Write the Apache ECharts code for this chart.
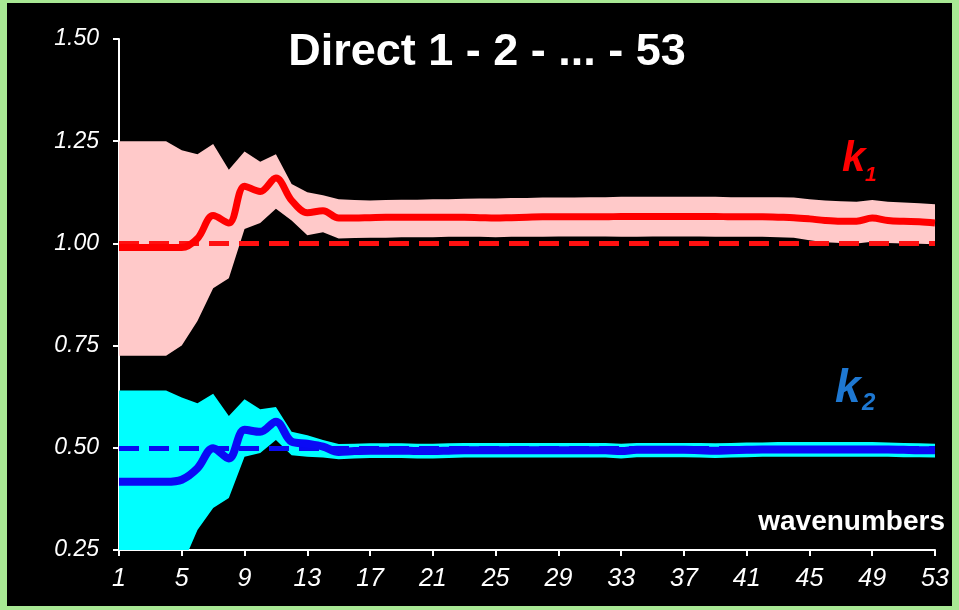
<!DOCTYPE html>
<html>
<head>
<meta charset="utf-8">
<script src="https://cdn.jsdelivr.net/npm/echarts@6/dist/echarts.min.js"></script>
<style>
  html, body { margin: 0; padding: 0; background: #a8e894; width: 959px; height: 610px; overflow: hidden; }
  #chart { position: absolute; left: 7px; top: 3px; width: 945px; height: 603px; }
</style>
</head>
<body>
<div id="chart"></div>
<script>
const categories = ['1','2','3','4','5','6','7','8','9','10','11','12','13','14','15','16','17','18','19','20',
  '21','22','23','24','25','26','27','28','29','30','31','32','33','34','35','36','37','38','39','40',
  '41','42','43','44','45','46','47','48','49','50','51','52','53'];
const yTicks = [0.25, 0.50, 0.75, 1.00, 1.25, 1.50];

const k1Upper = [1.25,1.25,1.25,1.25,
  1.228,1.218,1.243,1.180,1.225,1.200,
  1.218,1.145,1.125,1.118,1.108,
  1.106,1.105,1.106,1.107,1.107,
  1.108,1.108,1.109,1.110,1.110,
  1.111,1.111,1.112,1.112,1.112,
  1.113,1.113,1.114,1.114,1.114,
  1.114,1.114,1.114,1.114,1.113,
  1.113,1.113,1.113,1.112,1.108,
  1.105,1.103,1.102,1.106,1.102,
  1.100,1.098,1.096];
const k1Lower = [0.725,0.725,0.725,0.725,
  0.750,0.810,0.890,0.915,1.035,1.050,
  1.085,1.056,1.020,1.027,1.012,
  1.013,1.014,1.014,1.015,1.015,
  1.015,1.016,1.016,1.016,1.015,
  1.016,1.016,1.016,1.017,1.017,
  1.017,1.017,1.016,1.016,1.017,
  1.017,1.017,1.017,1.016,1.016,
  1.016,1.016,1.015,1.014,1.008,
  1.003,1.001,1.000,1.004,1.001,
  1.000,0.999,0.998];
const k1Mean = [0.990,0.990,0.990,0.990,0.990,
  1.012,1.068,1.050,1.140,1.127,
  1.160,1.105,1.075,1.080,1.062,
  1.062,1.063,1.064,1.064,1.064,
  1.064,1.064,1.064,1.063,1.062,
  1.063,1.064,1.065,1.065,1.065,
  1.065,1.065,1.066,1.066,1.066,
  1.066,1.066,1.066,1.066,1.065,
  1.065,1.065,1.064,1.063,1.060,
  1.056,1.054,1.054,1.062,1.056,
  1.054,1.053,1.050];

const k2Upper = [0.640,0.640,0.640,0.640,
  0.623,0.609,0.632,0.578,0.619,0.594,
  0.600,0.539,0.531,0.519,0.509,
  0.510,0.511,0.511,0.511,0.510,
  0.510,0.511,0.512,0.512,0.512,
  0.512,0.512,0.512,0.512,0.512,
  0.512,0.512,0.510,0.512,0.512,
  0.512,0.512,0.512,0.511,0.512,
  0.513,0.513,0.514,0.514,0.514,
  0.514,0.514,0.514,0.514,0.513,
  0.512,0.511,0.510];
const k2Lower = [0.190,0.190,0.190,0.190,
  0.210,0.299,0.353,0.377,0.478,0.487,
  0.519,0.482,0.478,0.476,0.472,
  0.474,0.475,0.475,0.475,0.474,
  0.474,0.475,0.476,0.476,0.476,
  0.476,0.476,0.476,0.476,0.476,
  0.476,0.476,0.474,0.477,0.477,
  0.477,0.477,0.476,0.475,0.476,
  0.477,0.478,0.478,0.478,0.478,
  0.478,0.478,0.478,0.478,0.478,
  0.477,0.477,0.476];
const k2Mean = [0.417,0.417,0.417,0.417,0.422,
  0.450,0.499,0.474,0.544,0.539,
  0.564,0.515,0.510,0.503,0.490,
  0.492,0.493,0.493,0.493,0.492,
  0.492,0.493,0.494,0.494,0.494,
  0.494,0.494,0.494,0.494,0.494,
  0.494,0.494,0.492,0.495,0.495,
  0.495,0.495,0.494,0.493,0.494,
  0.495,0.496,0.496,0.496,0.496,
  0.496,0.496,0.496,0.496,0.496,
  0.495,0.494,0.494];

const k1Ref = 1.00;
const k2Ref = 0.50;

const FONT = 'Arial, "Liberation Sans", Helvetica, sans-serif';
const chart = echarts.init(document.getElementById('chart'), null, { renderer: 'canvas' });

const k1Band = k1Upper.map((v, i) => +(v - k1Lower[i]).toFixed(4));
const k2Band = k2Upper.map((v, i) => +(v - k2Lower[i]).toFixed(4));

chart.setOption({
  backgroundColor: '#000000',
  animation: false,
  grid: { left: 112, top: 36, width: 816, height: 511, containLabel: false },
  xAxis: {
    type: 'category',
    data: categories,
    boundaryGap: false,
    axisLine: { lineStyle: { color: '#ffffff', width: 2 } },
    axisTick: { show: true, interval: 3, length: 6, lineStyle: { color: '#ffffff', width: 2 } },
    axisLabel: { interval: 3, color: '#ffffff', fontSize: 25, fontStyle: 'italic', fontFamily: FONT, margin: 17 },
    splitLine: { show: false }
  },
  yAxis: {
    type: 'value',
    min: yTicks[0],
    max: yTicks[yTicks.length - 1],
    interval: 0.25,
    axisLine: { show: true, lineStyle: { color: '#ffffff', width: 2 } },
    axisTick: { show: true, length: 6, lineStyle: { color: '#ffffff', width: 2 } },
    axisLabel: { color: '#ffffff', fontSize: 23, fontStyle: 'italic', fontFamily: FONT, margin: 20,
      formatter: v => v.toFixed(2) },
    splitLine: { show: false }
  },
  series: [
    { name: 'k1 low', type: 'line', stack: 'k1', data: k1Lower, symbol: 'none',
      lineStyle: { width: 0, opacity: 0 }, silent: true, z: 1 },
    { name: 'k1 band', type: 'line', stack: 'k1', data: k1Band, symbol: 'none',
      lineStyle: { width: 0, opacity: 0 }, areaStyle: { color: '#ffc9c9', opacity: 1 }, silent: true, z: 1,
      markLine: { silent: true, symbol: ['none', 'none'], label: { show: false },
        lineStyle: { color: '#ff1010', type: [20, 10], width: 5 },
        data: [{ yAxis: k1Ref }] } },
    { name: 'k2 low', type: 'line', stack: 'k2', data: k2Lower, symbol: 'none',
      lineStyle: { width: 0, opacity: 0 }, silent: true, z: 1 },
    { name: 'k2 band', type: 'line', stack: 'k2', data: k2Band, symbol: 'none',
      lineStyle: { width: 0, opacity: 0 }, areaStyle: { color: '#00ffff', opacity: 1 }, silent: true, z: 1,
      markLine: { silent: true, symbol: ['none', 'none'], label: { show: false },
        lineStyle: { color: '#0a0af0', type: [20, 10], width: 5 },
        data: [{ yAxis: k2Ref }] } },
    { name: 'k1', type: 'line', data: k1Mean, symbol: 'none', smooth: 0.35,
      lineStyle: { color: '#ff0000', width: 7 }, z: 5 },
    { name: 'k2', type: 'line', data: k2Mean, symbol: 'none', smooth: 0.35,
      lineStyle: { color: '#0a0af5', width: 8 }, z: 5 }
  ],
  graphic: [
    { type: 'text', x: 480, y: 50, z: 10,
      style: { text: 'Direct 1 - 2 - ... - 53', fill: '#ffffff', font: 'bold 45px ' + FONT,
        textAlign: 'center', textVerticalAlign: 'middle' } },
    { type: 'text', x: 835, y: 156, z: 10,
      style: { text: 'k', fill: '#ff0000', font: 'italic bold 42px ' + FONT, textAlign: 'left', textVerticalAlign: 'middle' } },
    { type: 'text', x: 858, y: 172, z: 10,
      style: { text: '1', fill: '#ff0000', font: 'italic bold 21px ' + FONT, textAlign: 'left', textVerticalAlign: 'middle' } },
    { type: 'text', x: 828, y: 386, z: 10,
      style: { text: 'k', fill: '#1e78d2', font: 'italic bold 46px ' + FONT, textAlign: 'left', textVerticalAlign: 'middle' } },
    { type: 'text', x: 855, y: 400, z: 10,
      style: { text: '2', fill: '#1e78d2', font: 'italic bold 24px ' + FONT, textAlign: 'left', textVerticalAlign: 'middle' } },
    { type: 'text', x: 938, y: 519, z: 10,
      style: { text: 'wavenumbers', fill: '#ffffff', font: 'bold 28px ' + FONT, textAlign: 'right', textVerticalAlign: 'middle' } }
  ]
});
</script>
</body>
</html>
